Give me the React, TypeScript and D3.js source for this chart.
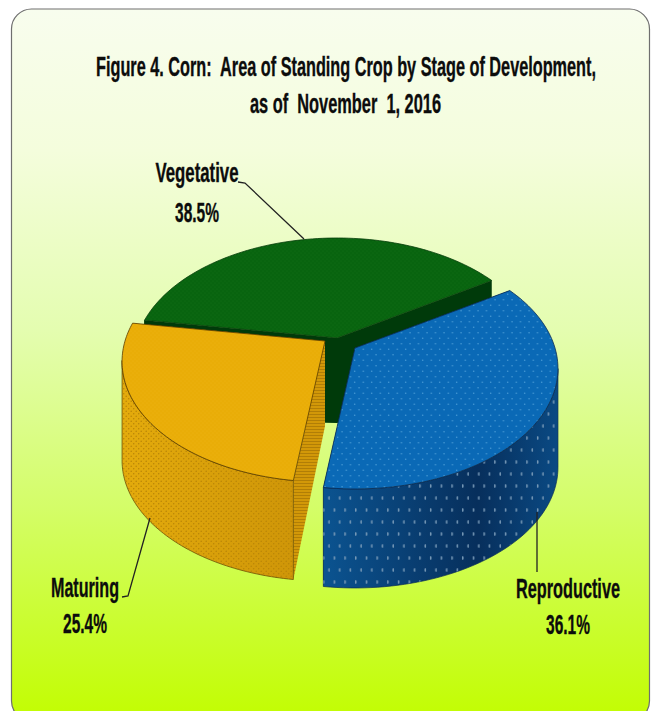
import React from "react";
import * as d3 from "d3";

const categories = ["Vegetative", "Reproductive", "Maturing"];
const shares = [38.5, 36.1, 25.4];
const titleLines = ["Figure 4. Corn:  Area of Standing Crop by Stage of Development,", "as of  November  1, 2016"];

const W = 652, H = 711;
const RX = 200, RY = 117, PERSP = 0.17, WALL_IN = 85, WALL_OUT = 99;
const START = (-81 * Math.PI) / 180;
const apexes = [[337, 338], [355, 348], [325, 341]];
const topFill = ["url(#pG)", "url(#pB)", "url(#pO)"];
const rimBase = ["#003a0a", "url(#blueWall)", "url(#orangeWall)"];
const rimDots = ["none", "url(#pBW)", "url(#pOW)"];
const sideFill = ["#003a0a", "#0a3f73", "url(#pOS)"];
const edge = ["#063d0a", "#0a2c55", "#5a3c00"];

const pie = d3.pie<number>().sort(null).startAngle(START).endAngle(START + 2 * Math.PI);
const arcs = pie(shares);

const rim = (a: number, ox: number, oy: number): [number, number] => {
  const s = 1 / (1 + PERSP * Math.cos(a));
  return [ox + RX * Math.sin(a) * s, oy - RY * Math.cos(a) * s];
};
const down = (p: [number, number], h: number): [number, number] => [p[0], p[1] + h];
const line = d3.line<[number, number]>();
const samples = (a0: number, a1: number) => d3.range(0, 81).map((i) => a0 + ((a1 - a0) * i) / 80);

// part of the rim that faces the viewer: from the horizontal extreme to the end lower on screen
const frontPart = (pts: [number, number][], ox: number) => {
  const idx = d3.greatestIndex(pts, (p) => Math.abs(p[0] - ox)) as number;
  const head = pts.slice(0, idx + 1);
  const tail = pts.slice(idx);
  return (d3.mean(head, (p) => p[1]) as number) > (d3.mean(tail, (p) => p[1]) as number) ? head : tail;
};

const labels = [
  { name: 0, cx: 197, y: 182, w: 83, y2: 222, w2: 44, leader: [[238, 182], [245, 183], [304, 239]] },
  { name: 1, cx: 568, y: 598, w: 104, y2: 634, w2: 44, leader: [[537, 512], [537, 572]] },
  { name: 2, cx: 85, y: 597, w: 68, y2: 633, w2: 44, leader: [[122, 597], [128, 596], [150, 518]] },
];

const font = "'Liberation Sans', Arial, sans-serif";

function Slice({ i }: { i: number }) {
  const { startAngle: a0, endAngle: a1 } = arcs[i];
  const [ox, oy] = apexes[i];
  const top = samples(a0, a1).map((a) => rim(a, ox, oy));
  const wall = frontPart(top, ox);
  const wallPath = line([...wall, ...wall.map((p) => down(p, WALL_OUT)).reverse()]) + "Z";
  const apex: [number, number] = [ox, oy];
  const side = (a: number) => {
    const p = rim(a, ox, oy);
    return line([apex, p, down(p, WALL_OUT), down(apex, WALL_IN)]) + "Z";
  };
  return (
    <g>
      <path d={side(a0)} fill={sideFill[i]} />
      <path d={side(a1)} fill={sideFill[i]} />
      <path d={wallPath} fill={rimBase[i]} stroke={edge[i]} strokeWidth={0.7} />
      <path d={wallPath} fill={rimDots[i]} />
      <path d={line([apex, ...top]) + "Z"} fill={topFill[i]} stroke={edge[i]} strokeWidth={0.8} />
    </g>
  );
}

export default function App() {
  return (
    <svg width={W} height={H} viewBox={`0 0 ${W} ${H}`} style={{ position: "absolute", left: 0, top: 0, background: "#fff" }}>
      <defs>
        <linearGradient id="bg" x1="0" y1="0" x2="0" y2="1">
          <stop offset="0" stopColor="#f8fdee" />
          <stop offset="0.2" stopColor="#f4fddc" />
          <stop offset="0.45" stopColor="#e4fdb0" />
          <stop offset="0.7" stopColor="#d4fd68" />
          <stop offset="1" stopColor="#c2fd00" />
        </linearGradient>
        <linearGradient id="blueWall" gradientUnits="userSpaceOnUse" x1="324" y1="0" x2="560" y2="0">
          <stop offset="0" stopColor="#0b5390" />
          <stop offset="0.65" stopColor="#072f5c" />
          <stop offset="1" stopColor="#0a4a84" />
        </linearGradient>
        <linearGradient id="orangeWall" gradientUnits="userSpaceOnUse" x1="124" y1="0" x2="292" y2="0">
          <stop offset="0" stopColor="#e4ab0c" />
          <stop offset="1" stopColor="#cf9608" />
        </linearGradient>
        <pattern id="pG" width="4" height="4" patternUnits="userSpaceOnUse">
          <rect width="4" height="4" fill="#08640f" />
          <circle cx="1" cy="1" r="0.5" fill="#157318" />
          <circle cx="3" cy="3" r="0.5" fill="#157318" />
        </pattern>
        <pattern id="pB" width="8.5" height="11" patternUnits="userSpaceOnUse">
          <rect width="8.5" height="11" fill="#0a69b6" />
          <circle cx="2" cy="2.7" r="0.7" fill="#4f9fd8" />
          <circle cx="6.25" cy="8.2" r="0.7" fill="#4f9fd8" />
        </pattern>
        <pattern id="pO" width="4" height="4" patternUnits="userSpaceOnUse">
          <rect width="4" height="4" fill="#e9ad07" />
          <circle cx="1" cy="1" r="0.55" fill="#efb617" />
          <circle cx="3" cy="3" r="0.55" fill="#efb617" />
        </pattern>
        <pattern id="pBW" width="10.7" height="24" patternUnits="userSpaceOnUse">
          <ellipse cx="2.7" cy="6" rx="0.8" ry="2" fill="#7a9bb8" />
          <ellipse cx="8" cy="18" rx="0.8" ry="2" fill="#7a9bb8" />
        </pattern>
        <pattern id="pOW" width="5" height="5" patternUnits="userSpaceOnUse">
          <circle cx="1.2" cy="1.2" r="0.8" fill="#b98506" />
          <circle cx="3.7" cy="3.7" r="0.8" fill="#b98506" />
        </pattern>
        <pattern id="pOS" width="3" height="3" patternUnits="userSpaceOnUse">
          <rect width="3" height="3" fill="#d29808" />
          <rect width="3" height="1" fill="#b17e06" />
        </pattern>
      </defs>

      <rect x={11.5} y={9} width={638} height={712} rx={20} fill="url(#bg)" stroke="#6f6f6f" strokeWidth={1.2} />

      <g fontFamily={font} fontWeight="bold" fill="#0c0c0c" stroke="#0c0c0c" strokeWidth={0.35} fontSize={27}>
        <text x={346} y={76} textAnchor="middle" textLength={500} lengthAdjust="spacingAndGlyphs" xmlSpace="preserve">{titleLines[0]}</text>
        <text x={345.5} y={113} textAnchor="middle" textLength={191} lengthAdjust="spacingAndGlyphs" xmlSpace="preserve">{titleLines[1]}</text>
      </g>

      <Slice i={0} />
      <Slice i={2} />
      <Slice i={1} />

      {labels.map((l) => (
        <g key={l.name}>
          <path d={line(l.leader as [number, number][]) as string} fill="none" stroke="#222" strokeWidth={1.3} />
          <g fontFamily={font} fontWeight="bold" fill="#0c0c0c" stroke="#0c0c0c" strokeWidth={0.35} fontSize={28}>
            <text x={l.cx} y={l.y} textAnchor="middle" textLength={l.w} lengthAdjust="spacingAndGlyphs">{categories[l.name]}</text>
            <text x={l.cx} y={l.y2} textAnchor="middle" textLength={l.w2} lengthAdjust="spacingAndGlyphs">{shares[l.name].toFixed(1)}%</text>
          </g>
        </g>
      ))}
    </svg>
  );
}
